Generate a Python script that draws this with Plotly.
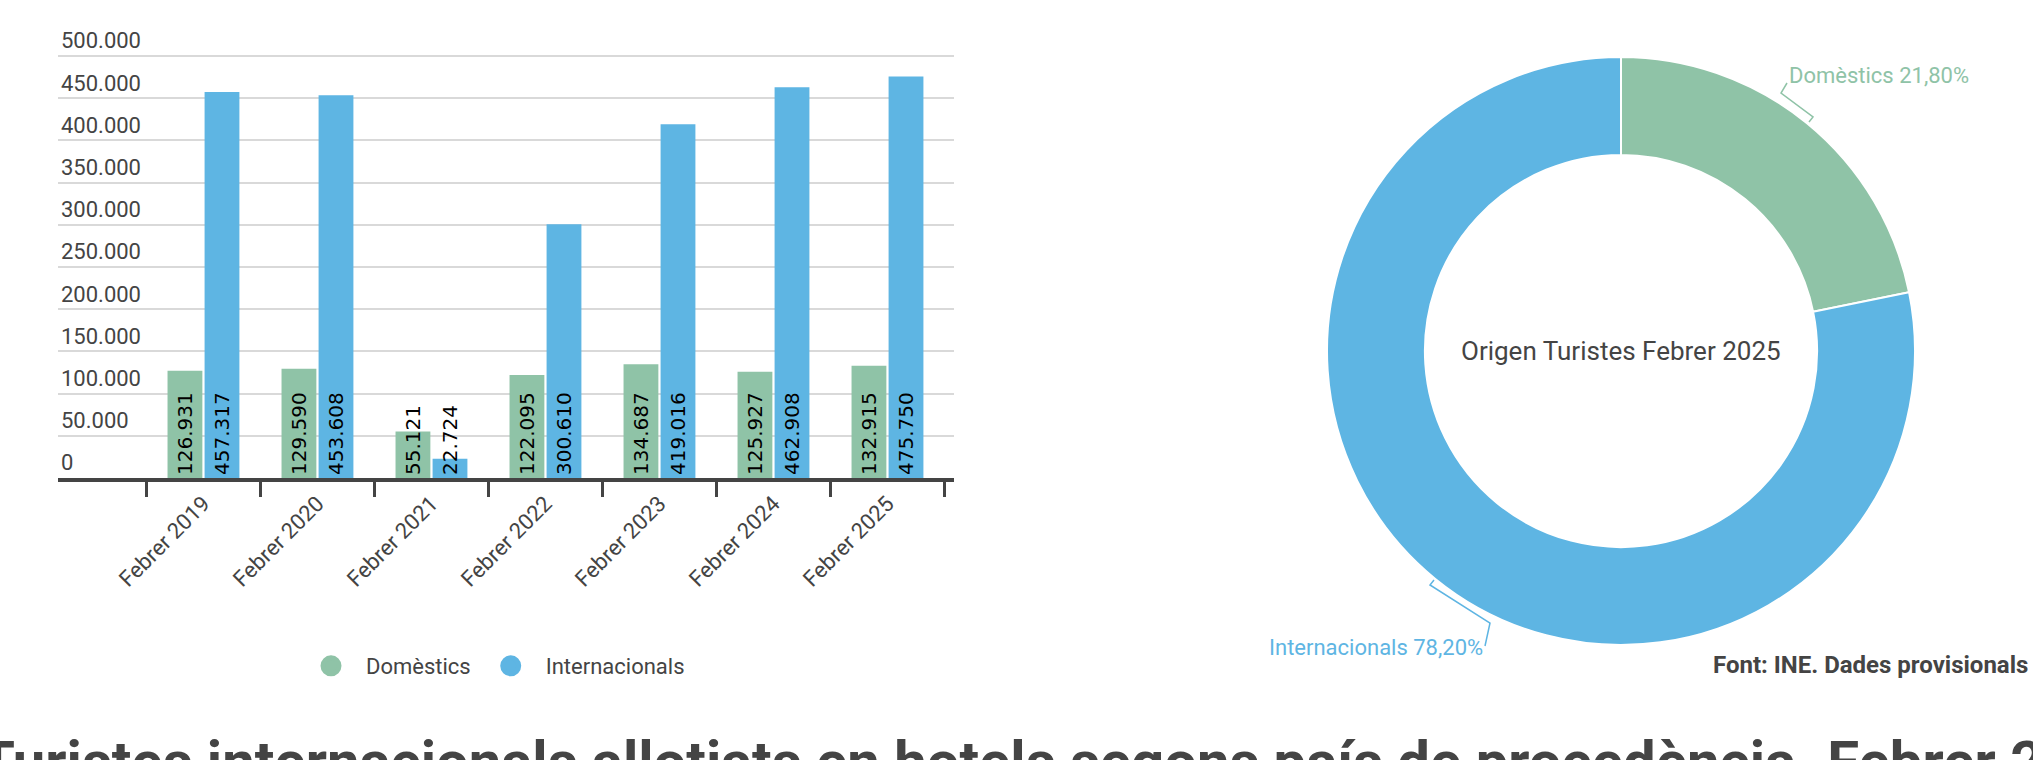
import plotly.graph_objects as go

# ---------------- data ----------------
categories = ["Febrer 2019", "Febrer 2020", "Febrer 2021", "Febrer 2022",
              "Febrer 2023", "Febrer 2024", "Febrer 2025"]
domestics = [126931, 129590, 55121, 122095, 134687, 125927, 132915]
internacionals = [457317, 453608, 22724, 300610, 419016, 462908, 475750]
series_names = ["Domèstics", "Internacionals"]

y_tickvals = [0, 50000, 100000, 150000, 200000, 250000,
              300000, 350000, 400000, 450000, 500000]

donut_labels = ["Domèstics", "Internacionals"]
donut_pct = [21.80, 78.20]
donut_title = "Origen Turistes Febrer 2025"

source_text = "Font: INE. Dades provisionals"
bottom_title = ("Turistes internacionals allotjats en hotels segons país de "
                "procedència. Febrer 2025")

# ---------------- style ----------------
GREEN = "#8FC3A7"
BLUE = "#5EB5E3"
DARK = "#444444"
GRID = "#D9D9D9"
W, H = 2033, 760


def px_x(p):
    return p / W


def px_y(p):
    return 1 - p / H


fig = go.Figure()

colors = [GREEN, BLUE]
for name, vals, col in zip(series_names, [domestics, internacionals], colors):
    fig.add_trace(go.Bar(
        x=categories, y=vals, name=name,
        marker=dict(color=col, line=dict(width=0)),
        texttemplate="%{y:,.0f}", textposition="auto", textangle=-90,
        insidetextanchor="start", constraintext="none",
        insidetextfont=dict(family="DejaVu Sans", size=20, color="black"),
        outsidetextfont=dict(family="DejaVu Sans", size=20, color="black"),
        cliponaxis=False, showlegend=False, hoverinfo="x+y",
    ))

# legend entries (round symbols)
for name, col in zip(series_names, colors):
    fig.add_trace(go.Scatter(
        x=[None], y=[None], mode="markers", name=name,
        marker=dict(symbol="circle", size=16, color=col,
                    line=dict(color=col, width=5)),
        showlegend=True, hoverinfo="skip",
    ))

# donut
cx, cy, R = 1621, 351, 294
fig.add_trace(go.Pie(
    labels=donut_labels, values=donut_pct, hole=0.667, sort=False,
    direction="clockwise", rotation=0,
    marker=dict(colors=colors, line=dict(color="white", width=2)),
    textinfo="none", showlegend=False, hoverinfo="label+percent",
    domain=dict(x=[px_x(cx - R), px_x(cx + R)], y=[px_y(cy + R), px_y(cy - R)]),
))


def fmt_pct(v):
    return f"{v:.2f}".replace(".", ",") + "%"


annotations = [
    dict(text=donut_title, x=px_x(cx), y=px_y(cy), xref="paper", yref="paper",
         showarrow=False, xanchor="center", yanchor="middle",
         font=dict(family="Roboto", size=26, color=DARK)),
    dict(text=f"{donut_labels[0]} {fmt_pct(donut_pct[0])}", x=px_x(1787), y=px_y(76),
         xref="paper", yref="paper", showarrow=False, xanchor="left", yanchor="middle",
         font=dict(family="Roboto", size=22, color=GREEN)),
    dict(text=f"{donut_labels[1]} {fmt_pct(donut_pct[1])}", x=px_x(1485), y=px_y(647),
         xref="paper", yref="paper", showarrow=False, xanchor="right", yanchor="middle",
         font=dict(family="Roboto", size=22, color=BLUE)),
    dict(text=f"<b>{source_text}</b>", x=px_x(2030), y=px_y(665), xref="paper", yref="paper",
         showarrow=False, xanchor="right", yanchor="middle",
         font=dict(family="Roboto", size=24, color=DARK)),
    dict(text=f"<b>{bottom_title}</b>", x=px_x(1061), y=px_y(726), xref="paper", yref="paper",
         showarrow=False, xanchor="center", yanchor="top",
         font=dict(family="Roboto", size=58, color=DARK)),
]


def leader(points, col):
    d = "M " + " L ".join(f"{px_x(x):.5f},{px_y(y):.5f}" for x, y in points)
    return dict(type="path", path=d, xref="paper", yref="paper",
                line=dict(color=col, width=1.5))


shapes = [
    leader([(1787, 83), (1781, 93), (1813, 117), (1809, 122)], GREEN),
    leader([(1485, 646), (1490, 623), (1430, 585), (1434, 580)], BLUE),
]

x_left, x_right = 58, 953.6
y_bottom = 478
y_max = 540000
px_per_unit = 422 / 500000
y_top = y_bottom - y_max * px_per_unit

fig.update_layout(
    width=W, height=H, autosize=False,
    margin=dict(l=0, r=0, t=0, b=0, pad=0),
    paper_bgcolor="white", plot_bgcolor="white",
    separators=",.",
    barmode="group", bargap=0.35, bargroupgap=0.06,
    font=dict(family="Roboto", color=DARK),
    xaxis=dict(
        domain=[px_x(x_left), px_x(x_right)],
        type="category", range=[-1.276, 6.58],
        tickson="boundaries", ticks="outside", ticklen=15, tickwidth=3,
        tickcolor=DARK, showline=True, linewidth=4, linecolor=DARK,
        showgrid=False, zeroline=False, tickangle=-45,
        tickfont=dict(family="Roboto", size=22, color=DARK),
        fixedrange=True,
    ),
    yaxis=dict(
        domain=[px_y(y_bottom), px_y(y_top)],
        range=[0, y_max], tickvals=y_tickvals, tickformat=",.0f",
        ticklabelposition="inside top",
        showgrid=True, gridcolor=GRID,
        gridwidth=2, zeroline=False, showline=False, ticks="",
        tickfont=dict(family="Roboto", size=22, color=DARK),
        fixedrange=True,
    ),
    legend=dict(
        orientation="h", x=px_x(493), y=px_y(666), xanchor="center",
        yanchor="middle", font=dict(family="Roboto", size=22, color=DARK),
        itemwidth=60, bgcolor="rgba(0,0,0,0)",
    ),
    annotations=annotations,
    shapes=shapes,
)

fig.write_html("out.html", config={"displayModeBar": False},
               post_script="document.body.style.margin='0';document.body.style.overflow='hidden';")
